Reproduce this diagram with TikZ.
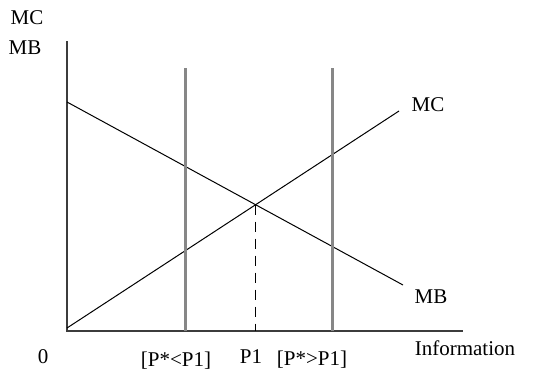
\documentclass[tikz,border=0pt]{standalone}
\usepackage{fontspec}
\setmainfont{Liberation Serif}
\usepackage{tikz}
\usetikzlibrary{calc}
\definecolor{axisG}{RGB}{60,60,60}
\definecolor{barG}{RGB}{135,135,135}

\begin{document}
\begin{tikzpicture}[x=1pt, y=-1pt, font=\fontsize{21}{24}\selectfont,
  ax/.style={draw=axisG, line width=1.6pt},
  crv/.style={draw=black, line width=1pt},
  bar/.style={draw=barG, line width=3pt},
  lbl/.style={inner sep=0pt, text=black}]
  \useasboundingbox (0,0) rectangle (554,381);
  % axes
  \coordinate (O) at (67,331);
  \coordinate (ytop) at (67,41);
  \coordinate (xend) at (463,331);
  \draw[ax] (ytop) -- (O) -- (xend);
  % curves
  \coordinate (mb0) at (67,102); \coordinate (mb1) at (403,285);
  \coordinate (mc0) at (67,328); \coordinate (mc1) at (399,111);
  \draw[crv] (mb0) -- (mb1);
  \draw[crv] (mc0) -- (mc1);
  \coordinate (E) at (intersection of mb0--mb1 and mc0--mc1);
  \draw[crv, dash pattern=on 10pt off 7pt] (E) -- (E |- O);
  % price bars
  \coordinate (lo) at (185,68); \coordinate (hi) at (332,68);
  \draw[bar] (lo) -- (lo |- O);
  \draw[bar] (hi) -- (hi |- O);
  % labels
  \node[lbl] (yl1) at (27,18) {MC};
  \node[lbl] (yl2) at (25,48) {MB};
  \node[lbl] (mcl) at (428,105) {MC};
  \node[lbl] (mbl) at (431,297) {MB};
  \node[lbl] (zero) at (43,357) {0};
  \node[lbl] (plo) at (176,361) {[P*<P1]};
  \node[lbl] (p1) at (251,357) {P1};
  \node[lbl] (phi) at (312,360) {[P*>P1]};
  \node[lbl] (info) at (465,348) {Information};
\end{tikzpicture}
\end{document}
